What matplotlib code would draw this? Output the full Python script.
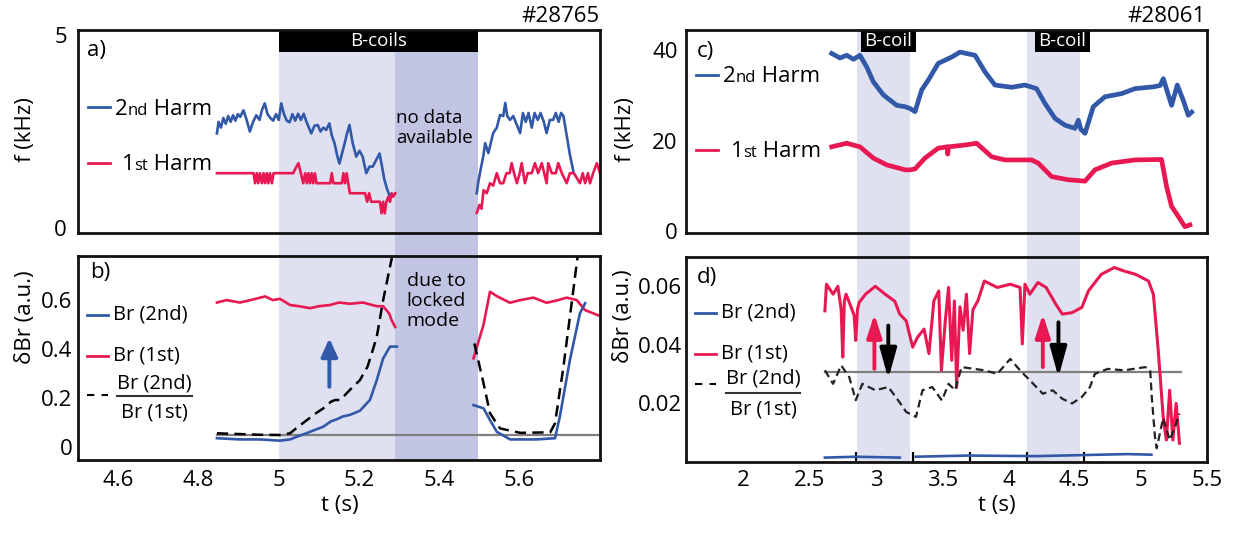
import matplotlib
matplotlib.use("Agg")
import matplotlib.pyplot as plt
import numpy as np
from matplotlib.patches import Rectangle
from matplotlib.transforms import blended_transform_factory as btf
from matplotlib.ticker import FixedLocator

plt.rcParams['font.family'] = ['Open Sans', 'DejaVu Sans']

BLUE = '#3258a8'
RED = '#e81952'
GRAY = '#7f7f7f'
LIGHT = '#dfe1f0'
DARK = '#c1c5e3'

# ---------------- data: shot #28765 ----------------
a2_t = [4.846, 4.850, 4.856, 4.862, 4.868, 4.874, 4.880, 4.886, 4.892, 4.898, 4.904, 4.912, 4.920, 4.928, 4.936, 4.944,
        4.952, 4.958, 4.965, 4.972, 4.979, 4.986, 4.993, 5.000, 5.006, 5.013, 5.020, 5.027, 5.034, 5.041, 5.048, 5.055,
        5.062, 5.068, 5.075, 5.081, 5.089, 5.097, 5.104, 5.111, 5.118, 5.126, 5.132, 5.139, 5.145, 5.151, 5.158, 5.164,
        5.170, 5.176, 5.184, 5.193, 5.201, 5.209, 5.214, 5.218, 5.226, 5.234, 5.242, 5.251, 5.257, 5.263, 5.270, 5.277]
a2_f = [2.45, 2.75, 2.60, 2.85, 2.70, 2.90, 2.75, 2.92, 2.78, 2.95, 2.88, 3.05, 2.80, 2.50, 2.75, 2.92,
        2.80, 3.05, 3.23, 2.95, 2.85, 2.78, 2.95, 2.80, 3.23, 2.95, 2.78, 2.74, 2.95, 2.78, 2.96, 2.80,
        2.96, 2.78, 2.60, 2.45, 2.65, 2.67, 2.50, 2.60, 2.54, 2.71, 2.40, 2.19, 1.90, 1.67, 1.95, 2.19,
        2.45, 2.67, 2.20, 1.85, 2.00, 1.85, 1.60, 1.42, 1.59, 1.59, 1.75, 1.93, 1.60, 1.25, 1.00, 0.81]
a1_t = [4.846, 4.937, 4.941, 4.945, 4.949, 4.953, 4.958, 4.962, 4.966, 4.970, 4.974, 4.978, 4.983, 4.987, 5.036, 5.042,
        5.049, 5.055, 5.061, 5.066, 5.070, 5.074, 5.078, 5.082, 5.086, 5.090, 5.094, 5.103, 5.128, 5.132, 5.136, 5.157,
        5.161, 5.165, 5.169, 5.173, 5.177, 5.215, 5.220, 5.225, 5.230, 5.235, 5.240, 5.252, 5.256, 5.260, 5.264, 5.268,
        5.273, 5.277, 5.281, 5.285, 5.290]
a1_f = [1.42, 1.42, 1.16, 1.42, 1.16, 1.42, 1.16, 1.42, 1.16, 1.42, 1.16, 1.42, 1.16, 1.42, 1.42, 1.55,
        1.68, 1.42, 1.16, 1.42, 1.16, 1.42, 1.16, 1.42, 1.16, 1.42, 1.16, 1.16, 1.16, 1.42, 1.16, 1.16,
        1.42, 1.16, 1.42, 1.16, 0.90, 0.90, 0.68, 0.90, 0.68, 0.68, 0.68, 0.68, 0.38, 0.68, 0.38, 0.68,
        0.81, 0.68, 0.90, 0.81, 0.90]
a2r_t = [5.493, 5.497, 5.501, 5.510, 5.514, 5.522, 5.528, 5.534, 5.543, 5.551, 5.559, 5.564, 5.569, 5.576, 5.584,
         5.593, 5.601, 5.608, 5.615, 5.622, 5.630, 5.637, 5.645, 5.652, 5.660, 5.667, 5.675, 5.683, 5.690, 5.697,
         5.703, 5.709, 5.717, 5.725, 5.734]
a2r_f = [0.90, 1.20, 1.42, 1.90, 2.20, 1.94, 2.20, 2.46, 2.60, 2.93, 2.90, 3.24, 2.90, 2.80, 2.90,
         2.67, 2.46, 2.98, 2.75, 2.98, 2.60, 2.98, 2.80, 2.98, 2.75, 2.46, 2.80, 2.80, 2.98, 2.75,
         2.98, 2.90, 2.40, 1.90, 1.45]
a1r_t = [5.493, 5.500, 5.505, 5.510, 5.518, 5.526, 5.534, 5.543, 5.551, 5.559, 5.567, 5.575, 5.580, 5.586, 5.593,
         5.600, 5.605, 5.613, 5.620, 5.630, 5.638, 5.646, 5.655, 5.661, 5.667, 5.671, 5.680, 5.690, 5.696, 5.705,
         5.717, 5.725, 5.735, 5.750, 5.757, 5.763, 5.770, 5.775, 5.783, 5.792, 5.800]
a1r_f = [0.39, 0.60, 0.50, 0.98, 0.90, 1.16, 1.10, 1.42, 1.16, 1.16, 1.42, 1.42, 1.68, 1.42, 1.16,
         1.42, 1.68, 1.16, 1.42, 1.42, 1.68, 1.42, 1.68, 1.42, 1.16, 1.68, 1.42, 1.42, 1.68, 1.42,
         1.16, 1.42, 1.42, 1.16, 1.42, 1.16, 1.42, 1.16, 1.42, 1.68, 1.42]

b1_t = [4.846, 4.870, 4.903, 4.930, 4.966, 4.985, 5.003, 5.028, 5.050, 5.078, 5.100, 5.128, 5.150, 5.177, 5.210,
        5.244, 5.260, 5.275, 5.281, 5.290]
b1_v = [0.59, 0.60, 0.59, 0.60, 0.615, 0.60, 0.605, 0.58, 0.575, 0.567, 0.575, 0.58, 0.59, 0.585, 0.59,
        0.575, 0.575, 0.545, 0.518, 0.49]
b2_t = [4.846, 4.903, 4.953, 5.003, 5.028, 5.050, 5.070, 5.090, 5.111, 5.130, 5.144, 5.160, 5.177, 5.202, 5.227,
        5.244, 5.260, 5.277, 5.294]
b2_v = [0.036, 0.031, 0.031, 0.026, 0.031, 0.045, 0.057, 0.070, 0.083, 0.105, 0.113, 0.125, 0.131, 0.148, 0.192,
        0.273, 0.362, 0.41, 0.41]
br_t = [4.846, 4.903, 4.953, 5.003, 5.028, 5.050, 5.070, 5.090, 5.111, 5.130, 5.140, 5.153, 5.177, 5.202, 5.221,
        5.233, 5.244, 5.260, 5.277, 5.285]
br_v = [0.056, 0.053, 0.050, 0.049, 0.056, 0.085, 0.110, 0.135, 0.158, 0.185, 0.192, 0.192, 0.233, 0.273, 0.328,
        0.390, 0.450, 0.600, 0.736, 0.80]
b1r_t = [5.485, 5.510, 5.526, 5.543, 5.576, 5.601, 5.634, 5.667, 5.696, 5.717, 5.742, 5.763, 5.800]
b1r_v = [0.362, 0.50, 0.634, 0.616, 0.589, 0.600, 0.610, 0.589, 0.600, 0.610, 0.600, 0.559, 0.535]
b2r_t = [5.485, 5.510, 5.526, 5.543, 5.576, 5.642, 5.688, 5.700, 5.725, 5.750, 5.763]
b2r_v = [0.171, 0.158, 0.110, 0.062, 0.031, 0.031, 0.036, 0.124, 0.355, 0.546, 0.587]
brr_t = [5.487, 5.510, 5.526, 5.551, 5.601, 5.676, 5.688, 5.709, 5.725, 5.746]
brr_v = [0.423, 0.260, 0.138, 0.076, 0.058, 0.060, 0.097, 0.328, 0.532, 0.80]
b_ref = 0.049

# ---------------- data: shot #28061 ----------------
c2_t = [2.639, 2.700, 2.749, 2.800, 2.847, 2.897, 2.946, 3.020, 3.118, 3.179, 3.216, 3.253, 3.302, 3.351, 3.424,
        3.523, 3.584, 3.695, 3.769, 3.842, 3.965, 4.063, 4.149, 4.211, 4.285, 4.358, 4.432, 4.457, 4.475, 4.506,
        4.567, 4.653, 4.776, 4.874, 5.009, 5.060, 5.083, 5.144, 5.186, 5.230, 5.267, 5.292]
c2_f = [39.3, 38.3, 38.9, 38.0, 38.9, 36.3, 33.0, 30.1, 27.8, 27.5, 27.1, 26.4, 31.2, 33.4, 37.1,
        38.5, 39.6, 38.9, 35.2, 32.3, 31.8, 32.3, 31.5, 28.2, 24.9, 23.4, 22.7, 24.5, 22.5, 21.6,
        27.5, 29.7, 30.4, 31.5, 31.9, 32.2, 33.7, 27.8, 32.3, 28.9, 25.6, 26.3]
c1_t = [2.639, 2.749, 2.847, 2.946, 3.044, 3.179, 3.216, 3.253, 3.326, 3.424, 3.490, 3.494, 3.500, 3.621, 3.707,
        3.818, 3.916, 4.112, 4.161, 4.260, 4.383, 4.506, 4.579, 4.702, 4.874, 5.058, 5.070, 5.107, 5.144, 5.193,
        5.242, 5.279]
c1_f = [18.6, 19.4, 18.6, 16.1, 14.6, 13.5, 13.5, 13.7, 16.1, 18.3, 18.6, 17.0, 18.6, 19.0, 19.4,
        16.4, 15.7, 15.7, 15.0, 12.0, 11.3, 11.0, 13.5, 15.0, 15.7, 15.8, 15.8, 9.8, 5.4, 3.2,
        0.9, 1.3]

d1_t = [2.614, 2.626, 2.676, 2.712, 2.737, 2.749, 2.761, 2.774, 2.811, 2.835, 2.847, 2.860, 2.872, 2.921, 2.995,
        3.069, 3.142, 3.179, 3.228, 3.277, 3.314, 3.363, 3.400, 3.437, 3.474, 3.494, 3.523, 3.548, 3.572, 3.592,
        3.609, 3.634, 3.658, 3.683, 3.707, 3.732, 3.769, 3.818, 3.916, 4.014, 4.088, 4.105, 4.125, 4.162, 4.223,
        4.285, 4.358, 4.407, 4.481, 4.555, 4.604, 4.702, 4.800, 4.874, 4.960, 5.058, 5.095, 5.132, 5.169, 5.193,
        5.218, 5.242, 5.267, 5.292]
d1_v = [0.0516, 0.0607, 0.0573, 0.0600, 0.0520, 0.0358, 0.0550, 0.0573, 0.0530, 0.0500, 0.0415, 0.0520, 0.0544,
        0.0573, 0.0600, 0.0573, 0.0549, 0.0505, 0.0482, 0.0392, 0.0426, 0.0454, 0.0370, 0.0550, 0.0584, 0.0313,
        0.0480, 0.0596, 0.0347, 0.0550, 0.0255, 0.0530, 0.0450, 0.0573, 0.0370, 0.0520, 0.0550, 0.0618, 0.0596,
        0.0607, 0.0596, 0.0403, 0.0607, 0.0573, 0.0613, 0.0596, 0.0539, 0.0505, 0.0510, 0.0528, 0.0584, 0.0641,
        0.0664, 0.0652, 0.0641, 0.0618, 0.0573, 0.0380, 0.0154, 0.0075, 0.0245, 0.0075, 0.0200, 0.0064]
dr_t = [2.614, 2.676, 2.737, 2.798, 2.847, 2.897, 2.995, 3.093, 3.167, 3.228, 3.302, 3.351, 3.425, 3.498, 3.548,
        3.597, 3.646, 3.744, 3.818, 3.916, 4.014, 4.088, 4.162, 4.260, 4.334, 4.407, 4.481, 4.555, 4.616, 4.653,
        4.751, 4.874, 5.034, 5.071, 5.083, 5.107, 5.120, 5.169, 5.218, 5.255, 5.292]
dr_v = [0.0313, 0.0267, 0.0330, 0.0290, 0.0211, 0.0267, 0.0245, 0.0256, 0.0211, 0.0171, 0.0154, 0.0245, 0.0256,
        0.0210, 0.0267, 0.0245, 0.0324, 0.0318, 0.0313, 0.0301, 0.0352, 0.0313, 0.0279, 0.0233, 0.0245, 0.0216,
        0.0200, 0.0222, 0.0256, 0.0301, 0.0318, 0.0313, 0.0324, 0.0313, 0.0222, 0.0086, 0.0047, 0.0150, 0.0075,
        0.0115, 0.0165]
d2_t = [2.614, 2.850, 3.180, 3.250, 3.300, 3.700, 4.200, 4.600, 4.900, 5.080]
d2_v = [0.0015, 0.0018, 0.0015, float('nan'), 0.0018, 0.0022, 0.0020, 0.0024, 0.0027, 0.0025]
d_ref = 0.0306

# shaded intervals
left_light = (5.0, 5.29)
left_dark = (5.29, 5.497)
right_spans = [(2.855, 3.26), (4.137, 4.542)]

# ---------------- figure ----------------
W, H = 1253, 541
fig = plt.figure(figsize=(W / 100, H / 100), dpi=100)


def pos(l, r, t, b):
    return [l / W, 1 - b / H, (r - l) / W, (b - t) / H]


axa = fig.add_axes(pos(78, 600, 30, 233))
axb = fig.add_axes(pos(78, 600, 256, 460))
axc = fig.add_axes(pos(686, 1207, 30, 233))
axd = fig.add_axes(pos(686, 1207, 257, 462))

for ax in (axa, axb, axc, axd):
    ax.set_facecolor('none')
    for s in ax.spines.values():
        s.set_linewidth(2.0)
        s.set_color('#111111')
        s.set_zorder(5)

axa.set_xlim(4.5, 5.8)
axb.set_xlim(4.5, 5.8)
axa.set_ylim(-0.13, 5.13)
axb.set_ylim(-0.053, 0.78)
axc.set_xlim(1.565, 5.405)
axd.set_xlim(1.565, 5.405)
axc.set_ylim(-0.5, 44.5)
axd.set_ylim(0.0, 0.07)

# shading (spanning both panels and the gap)
trL = btf(axb.transData, fig.transFigure)
trR = btf(axd.transData, fig.transFigure)
y0L, y1L = 1 - 460 / H, 1 - 30 / H
y0R, y1R = 1 - 462 / H, 1 - 30 / H
for (x0, x1), col in ((left_light, LIGHT), (left_dark, DARK)):
    fig.add_artist(Rectangle((x0, y0L), x1 - x0, y1L - y0L, transform=trL, color=col, lw=0, zorder=-1))
for x0, x1 in right_spans:
    fig.add_artist(Rectangle((x0, y0R), x1 - x0, y1R - y0R, transform=trR, color=LIGHT, lw=0, zorder=-1))

# black B-coil bars
bar_y0 = (233 - 52) / 203
ta = btf(axa.transData, axa.transAxes)
axa.add_patch(Rectangle((left_light[0], bar_y0), left_dark[1] - left_light[0], 1 - bar_y0,
                        transform=ta, color='black', lw=0, zorder=4, clip_on=False))
axa.text((left_light[0] + left_dark[1]) / 2, (bar_y0 + 1) / 2, 'B-coils', color='white', fontsize=13.5,
         ha='center', va='center', transform=ta, zorder=6)
tc = btf(axc.transData, axc.transAxes)
for x0, x1 in right_spans:
    axc.add_patch(Rectangle((x0, bar_y0), x1 - x0, 1 - bar_y0, transform=tc, color='black', lw=0,
                            zorder=4, clip_on=False))
    axc.text((x0 + x1) / 2, (bar_y0 + 1) / 2, 'B-coil', color='white', fontsize=13.5,
             ha='center', va='center', transform=tc, zorder=6)

# ---- panel a
axa.plot(a2_t, a2_f, color=BLUE, lw=1.9)
axa.plot(a1_t, a1_f, color=RED, lw=1.9)
axa.plot(a2r_t, a2r_f, color=BLUE, lw=1.9)
axa.plot(a1r_t, a1r_f, color=RED, lw=1.9)
axa.text(5.293, 2.6, 'no data\navailable', fontsize=13.5, ha='left', va='center', linespacing=1.15)

# ---- panel b
axb.plot([4.846, 5.8], [b_ref, b_ref], color=GRAY, lw=1.6, zorder=1)
axb.plot(b1_t, b1_v, color=RED, lw=1.9)
axb.plot(b2_t, b2_v, color=BLUE, lw=1.9)
axb.plot(br_t, br_v, color='black', lw=1.8, dashes=(4.5, 2.5))
axb.plot(b1r_t, b1r_v, color=RED, lw=1.9)
axb.plot(b2r_t, b2r_v, color=BLUE, lw=1.9)
axb.plot(brr_t, brr_v, color='black', lw=1.8, dashes=(4.5, 2.5))
axb.annotate('', xy=(5.126, 0.444), xytext=(5.126, 0.246),
             arrowprops=dict(arrowstyle='-|>,head_length=1.1,head_width=0.5', color=BLUE, lw=2.8,
                             shrinkA=0, shrinkB=0))
axb.text(5.319, 0.596, 'due to\nlocked\nmode', fontsize=14, ha='left', va='center', linespacing=1.15)

# ---- panel c
axc.plot(c2_t, c2_f, color=BLUE, lw=3.4)
axc.plot(c1_t, c1_f, color=RED, lw=3.4)

# ---- panel d
axd.plot([2.614, 5.30], [d_ref, d_ref], color=GRAY, lw=1.6, zorder=1)
axd.plot(d1_t, d1_v, color=RED, lw=2.2)
axd.plot(dr_t, dr_v, color='#222222', lw=1.6, dashes=(3.5, 2.0))
axd.plot(d2_t, d2_v, color=BLUE, lw=1.9)
arr_kw = dict(lw=2.8, shrinkA=0, shrinkB=0)
axd.annotate('', xy=(2.988, 0.0505), xytext=(2.988, 0.0318),
             arrowprops=dict(arrowstyle='-|>,head_length=1.4,head_width=0.45', color=RED, **arr_kw))
axd.annotate('', xy=(4.26, 0.0505), xytext=(4.26, 0.0324),
             arrowprops=dict(arrowstyle='-|>,head_length=1.4,head_width=0.45', color=RED, **arr_kw))
axd.annotate('', xy=(3.093, 0.0284), xytext=(3.093, 0.0466),
             arrowprops=dict(arrowstyle='-|>,head_length=1.8,head_width=0.5', color='black', **arr_kw))
axd.annotate('', xy=(4.378, 0.029), xytext=(4.378, 0.0477),
             arrowprops=dict(arrowstyle='-|>,head_length=1.8,head_width=0.5', color='black', **arr_kw))

# ---------------- ticks ----------------
TFS = 16
axa.set_xticks([])
axa.set_yticks([0, 5])
axa.tick_params(axis='y', length=0, pad=8, labelsize=TFS)

axb.set_xticks([4.6, 4.8, 5.0, 5.2, 5.4, 5.6])
axb.set_xticklabels(['4.6', '4.8', '5', '5.2', '5.4', '5.6'])
axb.set_yticks([0, 0.2, 0.4, 0.6])
axb.set_yticklabels(['0', '0.2', '0.4', '0.6'])
axb.tick_params(axis='both', which='major', length=0, labelsize=TFS)
axb.tick_params(axis='y', which='major', pad=4)
axb.tick_params(axis='x', which='major', pad=7)
axb.xaxis.set_minor_locator(FixedLocator([5.0, 5.2, 5.4, 5.6]))
axb.yaxis.set_minor_locator(FixedLocator([0, 0.2, 0.4, 0.6]))
axb.tick_params(axis='x', which='minor', direction='in', length=6, width=1.6, bottom=True)
axb.tick_params(axis='y', which='minor', direction='in', length=6, width=1.6, left=False, right=True)

axc.set_xticks([])
axc.set_yticks([0, 20, 40])
axc.tick_params(axis='y', length=0, pad=6, labelsize=TFS)
axc.yaxis.set_minor_locator(FixedLocator([20]))
axc.tick_params(axis='y', which='minor', direction='in', length=6, width=1.6, left=False, right=True)

axd.set_xticks([2, 2.5, 3, 3.5, 4, 4.5, 5, 5.5])
axd.set_xticklabels(['2', '2.5', '3', '3.5', '4', '4.5', '5', '5.5'])
axd.set_yticks([0.02, 0.04, 0.06])
axd.set_yticklabels(['0.02', '0.04', '0.06'])
axd.tick_params(axis='both', which='major', length=0, labelsize=TFS)
axd.tick_params(axis='y', which='major', pad=3)
axd.tick_params(axis='x', which='major', pad=6)
axd.xaxis.set_minor_locator(FixedLocator([2.85, 3.28, 3.71, 4.14, 4.57, 5.0]))
axd.yaxis.set_minor_locator(FixedLocator([0.02, 0.04, 0.06]))
axd.tick_params(axis='x', which='minor', direction='in', length=7, width=1.6, bottom=True)
axd.tick_params(axis='y', which='minor', direction='in', length=6, width=1.6, left=False, right=True)

# ---------------- labels ----------------
LFS = 16
fig.text(25 / W, 1 - 130 / H, 'f (kHz)', rotation=90, fontsize=LFS, ha='center', va='center')
fig.text(25 / W, 1 - 317 / H, 'δBr (a.u.)', rotation=90, fontsize=LFS, ha='center', va='center')
fig.text(625 / W, 1 - 130 / H, 'f (kHz)', rotation=90, fontsize=LFS, ha='center', va='center')
fig.text(623 / W, 1 - 316 / H, 'δBr (a.u.)', rotation=90, fontsize=LFS, ha='center', va='center')
fig.text(340 / W, 1 - 505 / H, 't (s)', fontsize=LFS, ha='center', va='center')
fig.text(997 / W, 1 - 505 / H, 't (s)', fontsize=LFS, ha='center', va='center')
fig.text(600 / W, 1 - 17 / H, '#28765', fontsize=16, ha='right', va='center')
fig.text(1206 / W, 1 - 17 / H, '#28061', fontsize=16, ha='right', va='center')

axa.text(0.017, 0.90, 'a)', transform=axa.transAxes, fontsize=16, va='center', ha='left')
axb.text(0.023, 0.917, 'b)', transform=axb.transAxes, fontsize=16, va='center', ha='left')
axc.text(0.021, 0.892, 'c)', transform=axc.transAxes, fontsize=16, va='center', ha='left')
axd.text(0.021, 0.898, 'd)', transform=axd.transAxes, fontsize=16, va='center', ha='left')


def rich(ax, x, y, parts):
    t = ax.text(x, y, parts[0][0], fontsize=parts[0][1], transform=ax.transAxes, va='baseline', ha='left')
    prev = t
    for s, fs in parts[1:]:
        prev = ax.annotate(s, xy=(1, y), xycoords=(prev, 'axes fraction'), fontsize=fs,
                           va='baseline', ha='left')


def seg(ax, x0, x1, y, **kw):
    ax.plot([x0, x1], [y, y], transform=ax.transAxes, clip_on=False, **kw)


# legend panel a
seg(axa, 0.019, 0.061, 0.621, color=BLUE, lw=2)
rich(axa, 0.071, 0.581, [('2', 16), ('nd', 12), (' Harm', 16)])
seg(axa, 0.019, 0.061, 0.345, color=RED, lw=2)
rich(axa, 0.084, 0.310, [('1', 16), ('st', 12), (' Harm', 16)])

# legend panel c
seg(axc, 0.019, 0.061, 0.778, color=BLUE, lw=2)
rich(axc, 0.071, 0.744, [('2', 16), ('nd', 12), (' Harm', 16)])
seg(axc, 0.019, 0.061, 0.409, color=RED, lw=2)
rich(axc, 0.086, 0.374, [('1', 16), ('st', 12), (' Harm', 16)])


def br_legend(ax, yb, yr, yd, ynum, yline, yden, xf0, xf1):
    EFS = 14.5
    seg(ax, 0.017, 0.058, yb, color=BLUE, lw=2)
    ax.text(0.067, yb, 'Br (2nd)', transform=ax.transAxes, fontsize=EFS, va='center', ha='left')
    seg(ax, 0.017, 0.058, yr, color=RED, lw=2)
    ax.text(0.067, yr, 'Br (1st)', transform=ax.transAxes, fontsize=EFS, va='center', ha='left')
    seg(ax, 0.017, 0.058, yd, color='black', lw=1.5, dashes=(3.5, 3.5))
    xc = (xf0 + xf1) / 2
    ax.text(xc, ynum, 'Br (2nd)', transform=ax.transAxes, fontsize=EFS, va='center', ha='center')
    seg(ax, xf0, xf1, yline, color='#333333', lw=1.5)
    ax.text(xc, yden, 'Br (1st)', transform=ax.transAxes, fontsize=EFS, va='center', ha='center')


br_legend(axb, 0.711, 0.51, 0.319, 0.375, 0.314, 0.235, 0.075, 0.218)
br_legend(axd, 0.727, 0.527, 0.38, 0.405, 0.337, 0.254, 0.077, 0.219)

fig.savefig('out.png', dpi=100)
